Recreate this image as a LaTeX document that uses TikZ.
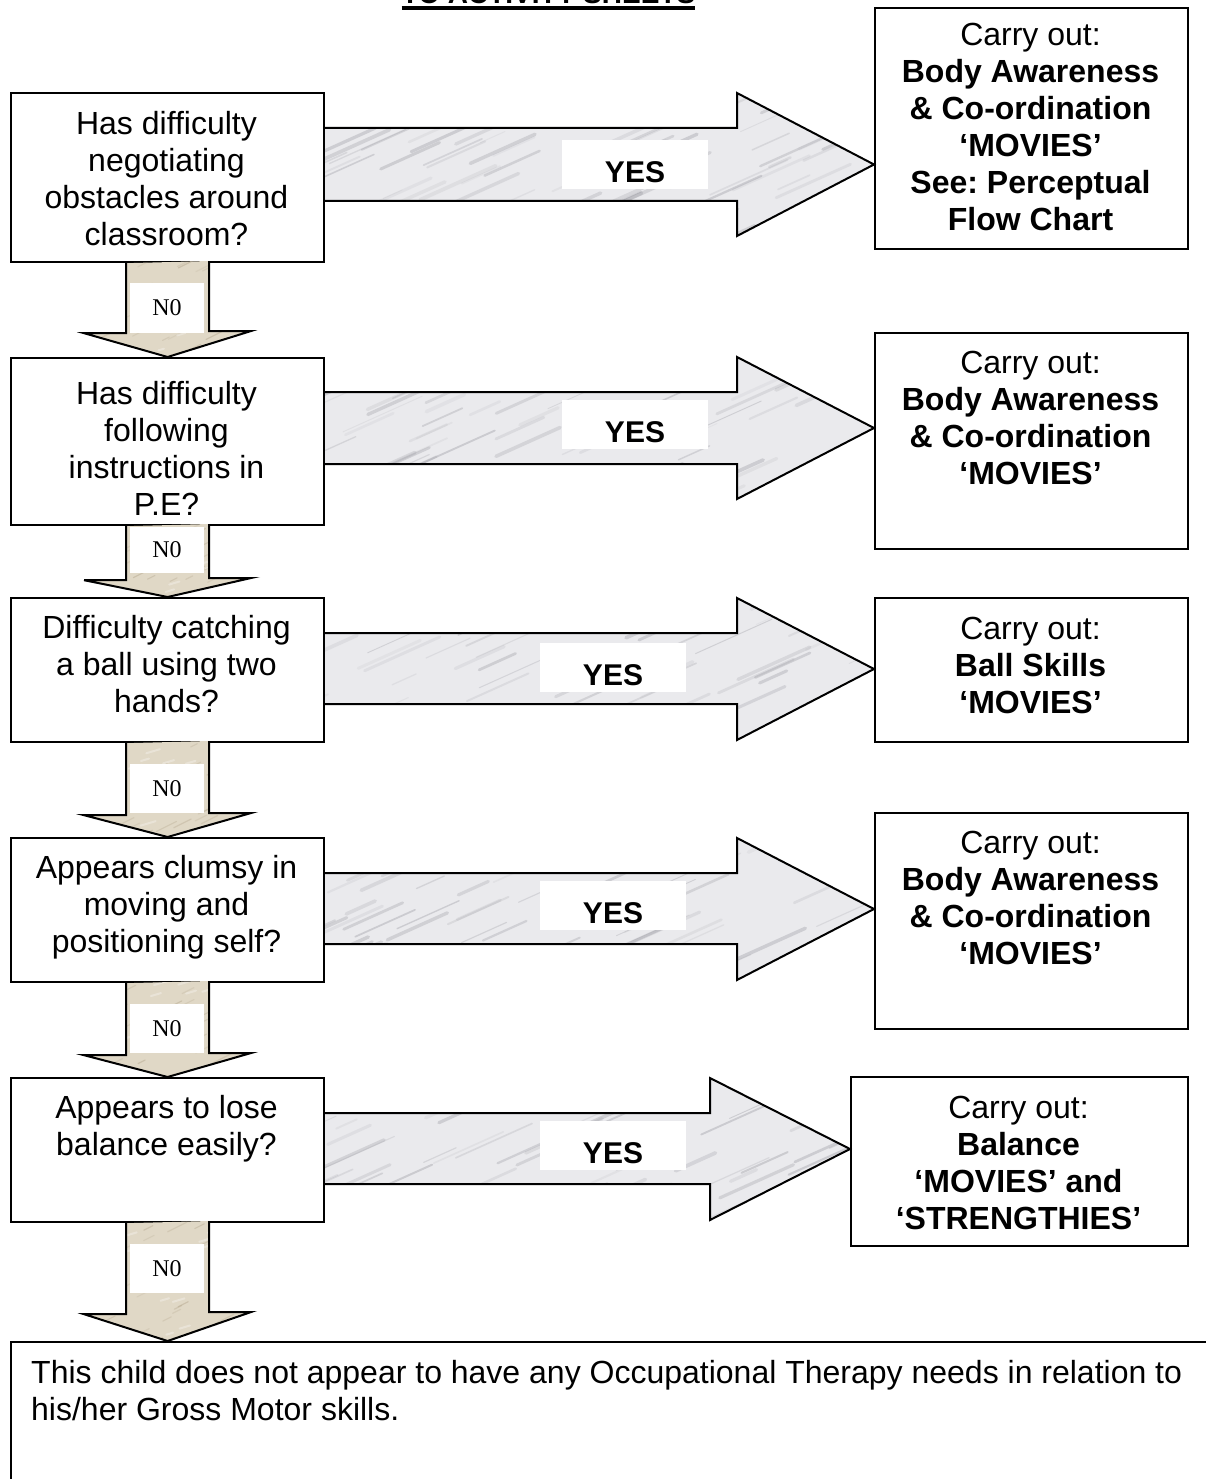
\documentclass[tikz,border=0pt]{standalone}
\usepackage{fontspec}
\setmainfont{Liberation Sans}
\newfontfamily\serifnum{Liberation Serif}
\usetikzlibrary{calc}
\frenchspacing

\definecolor{marble}{RGB}{234,234,237}
\definecolor{vein}{RGB}{140,140,148}
\definecolor{sand}{RGB}{224,216,198}
\definecolor{sandvein}{RGB}{185,172,148}

\tikzset{
  qbox/.style={draw=black, line width=2.2pt, fill=white, rectangle, inner sep=0pt, anchor=north west},
  body/.style={inner sep=0pt, align=center, anchor=north, font=\fontsize{32}{37}\selectfont},
  yesbox/.style={fill=white, inner sep=0pt, minimum width=146pt, minimum height=49pt},
  yestext/.style={inner sep=0pt, font=\bfseries\fontsize{30}{32}\selectfont},
  nolabel/.style={fill=white, inner sep=0pt, minimum width=74pt, font=\serifnum\fontsize{24}{26}\selectfont},
  arrowline/.style={draw=black, line width=2pt, line join=miter},
}

% block arrow to the right, marble filled
% #1 from node, #2 to node, #3/#4 shaft top/bottom, #5/#6 head top/bottom, #7 head base x, #8 tip y
\newcommand\yesflow[8]{%
  \def\yespath{(#1.east |- 0,#3) -- (#7,#3) -- (#7,#5) -- (#2.west |- 0,#8) -- (#7,#6) -- (#7,#4) -- (#1.east |- 0,#4)}
  \begin{scope}
    \clip \yespath -- cycle;
    \fill[marble] (300,#5) rectangle (900,#6);
    \foreach \k in {1,...,90}{
      \pgfmathsetmacro\vx{280+620*rnd}
      \pgfmathsetmacro\vy{#5+(#6-#5+20)*rnd}
      \pgfmathsetmacro\vl{20+60*rnd}
      \pgfmathsetmacro\vo{0.08+0.25*rnd}
      \pgfmathsetmacro\vw{0.8+3*rnd}
      \draw[vein, line width=\vw pt, opacity=\vo, line cap=round] (\vx,\vy) -- ++(\vl,-0.45*\vl);
    }
  \end{scope}
  \draw[arrowline] \yespath;
}

% block arrow downwards, sand filled
% #1 from node, #2 tip coordinate, #3 shaft length, #4 head length, #5 top y
\newcommand\noflow[5]{%
  \def\nopath{(#1.south) ++(-41.5,0) -- ++(0,#3) -- ++(-42,0) -- (#2) -- ++(83.5,-#4) -- ++(-42,0) -- ++(0,-#3)}
  \begin{scope}
    \clip \nopath -- cycle;
    \fill[sand] (70,#5) rectangle (260,#5+#3+#4+5);
    \foreach \k in {1,...,30}{
      \pgfmathsetmacro\vx{80+175*rnd}
      \pgfmathsetmacro\vy{#5+(#3+#4)*rnd}
      \pgfmathsetmacro\vl{6+14*rnd}
      \pgfmathsetmacro\vo{0.2+0.35*rnd}
      \draw[sandvein, line width=1.2pt, opacity=\vo, line cap=round] (\vx,\vy) -- ++(\vl,-0.5*\vl);
    }
    \foreach \k in {1,...,20}{
      \pgfmathsetmacro\vx{80+175*rnd}
      \pgfmathsetmacro\vy{#5+(#3+#4)*rnd}
      \pgfmathsetmacro\vl{5+10*rnd}
      \draw[white, line width=2pt, opacity=0.3, line cap=round] (\vx,\vy) -- ++(\vl,-0.3*\vl);
    }
  \end{scope}
  \draw[arrowline] \nopath;
}

\begin{document}
\begin{tikzpicture}[x=1pt,y=-1pt]
\useasboundingbox (0,0) rectangle (1206,1479);
\pgfmathsetseed{4242}

% heading (runs off the top edge)
\node[inner sep=0pt, anchor=base, font=\bfseries\fontsize{28}{30}\selectfont] (title) at (548.5,4) {TO ACTIVITY SHEETS};
\draw[line width=3.5pt] ($(title.base west)+(0,4)$) -- ($(title.base east)+(0,4)$);

% questions
\node[qbox, minimum width=313pt, minimum height=169pt] (q1) at (10,92) {};
\node[qbox, minimum width=313pt, minimum height=167pt] (q2) at (10,357) {};
\node[qbox, minimum width=313pt, minimum height=144pt] (q3) at (10,597) {};
\node[qbox, minimum width=313pt, minimum height=144pt] (q4) at (10,837) {};
\node[qbox, minimum width=313pt, minimum height=144pt] (q5) at (10,1077) {};

% activities
\node[qbox, minimum width=313pt, minimum height=241pt] (r1) at (874,7) {};
\node[qbox, minimum width=313pt, minimum height=216pt] (r2) at (874,332) {};
\node[qbox, minimum width=313pt, minimum height=144pt] (r3) at (874,597) {};
\node[qbox, minimum width=313pt, minimum height=216pt] (r4) at (874,812) {};
\node[qbox, minimum width=337pt, minimum height=169pt] (r5) at (850,1076) {};

% outcome
\node[qbox, minimum width=1240pt, minimum height=200pt] (fin) at (10,1341) {};

% YES arrows
\yesflow{q1}{r1}{128}{201}{93}{236}{737}{164.5}
\yesflow{q2}{r2}{392}{464}{357}{499}{737}{428}
\yesflow{q3}{r3}{633}{704}{598}{740}{737}{669}
\yesflow{q4}{r4}{873}{944}{838}{980}{737}{909}
\yesflow{q5}{r5}{1113}{1184}{1078}{1220}{710}{1149}

% NO arrows
\noflow{q1}{q2.north}{70}{26}{261}
\noflow{q2}{q3.north}{54}{19}{524}
\noflow{q3}{q4.north}{72}{24}{741}
\noflow{q4}{q5.north}{72}{24}{981}
\noflow{q5}{q5.south |- fin.north}{91}{29}{1221}

% question texts
\node[body] (q1t) at (166.5,111) {Has difficulty\\negotiating\\obstacles around\\classroom?};
\node[body] (q2t) at (166.5,381) {Has difficulty\\following\\instructions in\\P.E?};
\node[body] (q3t) at (166.5,615) {Difficulty catching\\a ball using two\\hands?};
\node[body] (q4t) at (166.5,855) {Appears clumsy in\\moving and\\positioning self?};
\node[body] (q5t) at (166.5,1095) {Appears to lose\\balance easily?};

% activity texts
\node[body] (r1t) at (1030.5,23) {Carry out:\\\textbf{Body Awareness}\\\textbf{\& Co-ordination}\\\textbf{‘MOVIES’}\\\textbf{See: Perceptual}\\\textbf{Flow Chart}};
\node[body] (r2t) at (1030.5,351) {Carry out:\\\textbf{Body Awareness}\\\textbf{\& Co-ordination}\\\textbf{‘MOVIES’}};
\node[body] (r3t) at (1030.5,617) {Carry out:\\\textbf{Ball Skills}\\\textbf{‘MOVIES’}};
\node[body] (r4t) at (1030.5,831) {Carry out:\\\textbf{Body Awareness}\\\textbf{\& Co-ordination}\\\textbf{‘MOVIES’}};
\node[body] (r5t) at (1018.5,1096) {Carry out:\\\textbf{Balance}\\\textbf{‘MOVIES’ and}\\\textbf{‘STRENGTHIES’}};

% outcome text
\node[inner sep=0pt, anchor=north west, align=left, font=\fontsize{32}{37}\selectfont] (fint) at (31,1360)
  {This child does not appear to have any Occupational Therapy needs in relation to\\his/her Gross Motor skills.};

% YES labels
\node[yesbox] (y1) at (635,164.5) {};
\node[yestext] (y1t) at ($(y1)+(0,7.5)$) {YES};
\node[yesbox] (y2) at (635,424.5) {};
\node[yestext] (y2t) at ($(y2)+(0,7.5)$) {YES};
\node[yesbox] (y3) at (613,667.5) {};
\node[yestext] (y3t) at ($(y3)+(0,7.5)$) {YES};
\node[yesbox] (y4) at (613,905.5) {};
\node[yestext] (y4t) at ($(y4)+(0,7.5)$) {YES};
\node[yesbox] (y5) at (613,1145.5) {};
\node[yestext] (y5t) at ($(y5)+(0,7.5)$) {YES};

% NO labels
\node[nolabel, minimum height=50pt] (n1) at (167,308) {N0};
\node[nolabel, minimum height=46pt] (n2) at (167,550) {N0};
\node[nolabel, minimum height=49pt] (n3) at (167,788.5) {N0};
\node[nolabel, minimum height=49pt] (n4) at (167,1028.5) {N0};
\node[nolabel, minimum height=49pt] (n5) at (167,1268.5) {N0};
\end{tikzpicture}
\end{document}
